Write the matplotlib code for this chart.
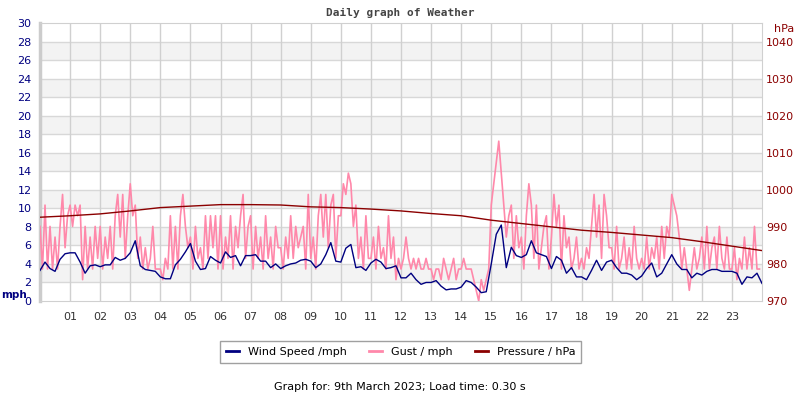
import numpy as np
import matplotlib
matplotlib.use('Agg')
import matplotlib.pyplot as plt

# wind speed (mph), one value every 10 minutes from 00:00 to 24:00
wind = [3.3, 4.2, 3.5, 3.2, 4.5, 5.1,
        5.2, 5.2, 4.2, 3.0, 3.8, 3.9,
        3.7, 3.9, 3.9, 4.7, 4.4, 4.6,
        5.2, 6.5, 3.8, 3.4, 3.3, 3.2,
        2.6, 2.4, 2.4, 3.9, 4.5, 5.3,
        6.2, 4.3, 3.4, 3.5, 4.8, 4.4,
        4.1, 5.3, 4.7, 4.9, 3.8, 4.9,
        4.9, 5.0, 4.3, 4.3, 3.6, 4.0,
        3.5, 3.8, 4.0, 4.1, 4.4, 4.5,
        4.3, 3.6, 4.0, 5.0, 6.3, 4.3,
        4.2, 5.7, 6.1, 3.6, 3.7, 3.3,
        4.1, 4.5, 4.2, 3.5, 3.6, 3.8,
        2.5, 2.5, 3.0, 2.3, 1.8, 2.0,
        2.0, 2.2, 1.6, 1.2, 1.3, 1.3,
        1.5, 2.2, 2.0, 1.5, 0.9, 1.0,
        4.0, 7.2, 8.2, 3.6, 5.8, 4.9,
        4.7, 5.0, 6.5, 5.2, 5.0, 4.8,
        3.5, 4.8, 4.4, 3.0, 3.6, 2.6,
        2.6, 2.3, 3.3, 4.4, 3.3, 4.2,
        4.4, 3.6, 3.0, 3.0, 2.8, 2.3,
        2.7, 3.5, 4.1, 2.6, 3.0, 4.0,
        5.0, 4.0, 3.4, 3.4, 2.5, 3.0,
        2.8, 3.2, 3.4, 3.4, 3.2, 3.2,
        3.2, 3.0, 1.8, 2.6, 2.5, 3.0,
        1.9]

# gust in knots, one value every 5 minutes (station reports whole knots)
gust_kt = [7, 3, 9, 3, 7, 3, 6, 3, 7, 10, 5, 8,
           9, 7, 9, 8, 9, 2, 7, 3, 6, 3, 7, 4,
           7, 3, 6, 4, 7, 3, 8, 10, 6, 10, 4, 8,
           11, 8, 9, 4, 6, 3, 5, 3, 4, 7, 3, 3,
           3, 2, 4, 3, 8, 3, 7, 3, 8, 10, 7, 5,
           6, 3, 7, 4, 5, 3, 8, 4, 8, 5, 8, 3,
           8, 3, 6, 4, 8, 3, 7, 5, 8, 10, 4, 7,
           8, 3, 7, 4, 6, 3, 8, 4, 6, 3, 7, 5,
           5, 3, 6, 4, 8, 4, 7, 5, 6, 7, 3, 10,
           4, 6, 3, 8, 10, 6, 10, 5, 9, 10, 4, 8,
           8, 11, 10, 12, 11, 7, 9, 4, 6, 3, 8, 4,
           4, 6, 3, 7, 4, 5, 3, 8, 4, 6, 2, 4,
           3, 4, 6, 4, 3, 4, 3, 4, 3, 3, 4, 3,
           3, 2, 3, 3, 2, 4, 3, 2, 3, 4, 2, 3,
           3, 4, 3, 3, 3, 2, 1, 0, 2, 1, 2, 3,
           9, 11, 13, 15, 12, 9, 6, 8, 9, 4, 8, 5,
           6, 3, 8, 11, 9, 4, 9, 3, 5, 7, 8, 3,
           6, 10, 7, 9, 3, 8, 5, 6, 3, 4, 6, 3,
           4, 3, 5, 4, 7, 10, 6, 9, 4, 10, 8, 5,
           5, 3, 7, 3, 4, 6, 3, 5, 3, 7, 4, 3,
           4, 3, 6, 3, 5, 4, 6, 3, 7, 4, 7, 6,
           10, 9, 8, 6, 3, 5, 3, 1, 3, 5, 3, 4,
           6, 3, 7, 3, 5, 6, 3, 7, 4, 3, 6, 3,
           3, 5, 2, 4, 3, 6, 3, 5, 3, 7, 3, 3]

# pressure (hPa), hourly from 00:00 to 24:00
pressure = [992.6, 993.0, 993.5, 994.3, 995.2, 995.6, 996.0, 996.0, 995.9,
            995.4, 995.2, 994.8, 994.3, 993.6, 993.0, 991.8, 990.9, 990.0,
            989.1, 988.5, 987.8, 987.1, 986.0, 984.8, 983.6]

hour_labels = ['%02d' % h for h in range(1, 24)]

t_wind = np.arange(len(wind)) * 10 / 60.0
t_gust = np.arange(len(gust_kt)) * 5 / 60.0
gust = [g * 1.15 for g in gust_kt]
t_press = np.arange(len(pressure))

fig = plt.figure(figsize=(8, 4), dpi=100)
ax = fig.add_axes([0.05, 0.2475, 0.9025, 0.695])

# alternating bands
for lo in range(2, 28, 4):
    ax.axhspan(lo, lo + 2, color='#f3f3f3', zorder=0, lw=0)
for y in range(2, 30, 2):
    ax.axhline(y, color='#d8d8d8', lw=1, zorder=1)
for h in range(1, 24):
    ax.axvline(h, color='#d0d0d0', lw=1, zorder=1)

ax.plot(t_gust, gust, color='#ff88aa', lw=1.2, zorder=3, label='Gust / mph')
ax.plot(t_wind, wind, color='#000080', lw=1, zorder=4, label='Wind Speed /mph')

ax.set_xlim(0, 24)
ax.set_ylim(0, 30)
ax.set_yticks(range(0, 31, 2))
ax.set_xticks(range(1, 24))
ax.set_xticklabels(hour_labels)
ax.tick_params(axis='y', colors='#000080', labelsize=8, length=0, pad=6)
ax.tick_params(axis='x', colors='#333333', labelsize=8, length=0, pad=8)
for s in ['top', 'right', 'bottom']:
    ax.spines[s].set_color('#d0d0d0')
ax.spines['left'].set_color('#cccccc')
ax.spines['left'].set_linewidth(2.5)

ax2 = ax.twinx()
ax2.plot(t_press, pressure, color='#8b0000', lw=1, zorder=5, label='Pressure / hPa')
ax2.set_ylim(970, 1045)
ax2.set_yticks(range(970, 1041, 10))
ax2.tick_params(axis='y', colors='#8b0000', labelsize=8, length=0, pad=3)
for s in ax2.spines.values():
    s.set_visible(False)

fig.text(0.5, 0.967, 'Daily graph of Weather', ha='center', va='center',
         family='DejaVu Sans Mono', weight='bold', fontsize=8, color='#444444')
fig.text(0.001, 0.262, 'mph', ha='left', va='center', weight='bold',
         fontsize=7.5, color='#000080')
fig.text(0.967, 0.927, 'hPa', ha='left', va='center', fontsize=8, color='#8b0000')

h1, l1 = ax.get_legend_handles_labels()
h2, l2 = ax2.get_legend_handles_labels()
handles = [h1[1], h1[0], h2[0]]
labels = [l1[1], l1[0], l2[0]]
leg = fig.legend(handles, labels, loc='center', bbox_to_anchor=(0.501, 0.12),
                 ncol=3, fontsize=8, handlelength=1.2, frameon=True, fancybox=False,
                 borderpad=0.5, columnspacing=2.0)
leg.get_frame().set_edgecolor('#888888')
leg.get_frame().set_linewidth(1)
for line in leg.get_lines():
    line.set_linewidth(2)

fig.text(0.5, 0.032, 'Graph for: 9th March 2023; Load time: 0.30 s', ha='center',
         va='center', fontsize=8, color='#000000')

fig.savefig('out.png', dpi=100)
